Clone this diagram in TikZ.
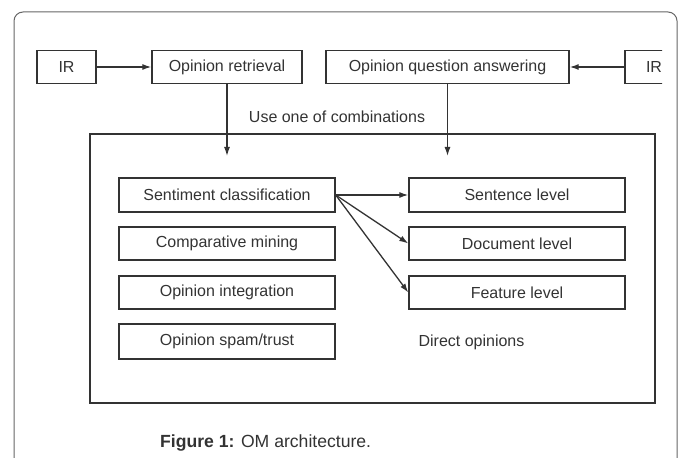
\documentclass[tikz,border=0pt]{standalone}
\usepackage{fontspec}
\setmainfont{Liberation Sans}
\usetikzlibrary{arrows.meta}
\definecolor{ink}{HTML}{333333}
\begin{document}
\begin{tikzpicture}[x=1pt, y=-1pt,
    box/.style={draw=ink, line width=1.4pt, minimum height=33pt, inner sep=0pt, text=ink, font=\fontsize{16}{19}\selectfont},
    arr/.style={-{Latex[length=9pt, width=6pt]}, draw=ink, line width=1.3pt},
    lbl/.style={text=ink, inner sep=0pt, font=\fontsize{16}{19}\selectfont}]
        \useasboundingbox (0,0) rectangle (684,457);

        % Outer rounded frame (runs off the bottom)
        \draw[black!60, line width=1pt, rounded corners=9pt] (14,470) -- (14,12) -- (677,12) -- (677,470);

        % Top row
        \node[box, minimum width=59pt] (irleft) at (66.5,67) {IR};
        \node[box, minimum width=150pt] (retrieval) at (227,67) {Opinion retrieval};
        \node[box, minimum width=243pt] (answering) at (447.5,67) {Opinion question answering};
        \begin{scope}
            \clip (600,40) rectangle (662,100);
            \node[box, minimum width=58pt] (irright) at (654,67) {IR};
        \end{scope}
        \draw[arr] (irleft) -- (retrieval);
        \draw[arr] (irright) -- (answering);

        % Combinations label
        \node[lbl] (combine) at (337,117) {Use one of combinations};

        % Inner frame
        \draw[ink, line width=1.5pt] (90,134) rectangle (655,403);
        \coordinate (tipleft) at (227,156);
        \coordinate (tipright) at (447.5,156);
        \draw[arr] (retrieval.south) -- (tipleft);
        \draw[arr] (answering.south) -- (tipright);

        % Left column of tasks
        \node[box, minimum width=216pt, minimum height=34pt] (sentiment) at (227,195) {Sentiment classification};
        \node[box, minimum width=216pt] (comparative) at (227,243.5) {Comparative mining};
        \node[box, minimum width=216pt] (integration) at (227,292.5) {Opinion integration};
        \node[box, minimum width=216pt, minimum height=35pt] (spam) at (227,341.5) {Opinion spam/trust};

        % Right column of levels
        \node[box, minimum width=216pt, minimum height=34pt] (sentence) at (517,195) {Sentence level};
        \node[box, minimum width=216pt] (document) at (517,243.5) {Document level};
        \node[box, minimum width=216pt] (feature) at (517,292.5) {Feature level};
        \node[lbl] (direct) at (471.5,342) {Direct opinions};

        \draw[arr] (sentiment.east) -- (sentence.west);
        \draw[arr] (sentiment.east) -- (document.west);
        \draw[arr] (sentiment.east) -- (feature.west);

        % Caption
        \node[lbl, anchor=west, font=\fontsize{17.6}{21}\selectfont] (caption) at (160,443) {\textbf{Figure 1:} OM architecture.};
    \end{tikzpicture}
\end{document}
